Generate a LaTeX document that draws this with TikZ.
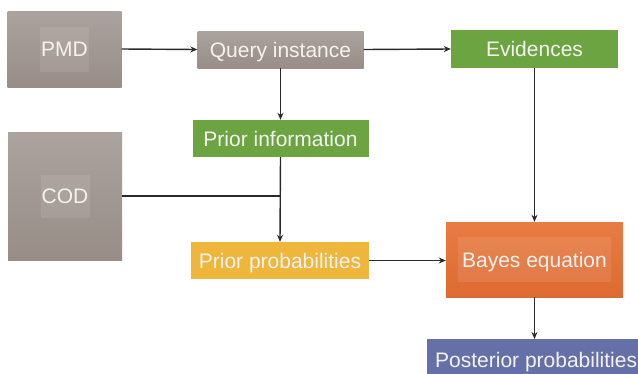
\documentclass[tikz,border=0pt]{standalone}
\usepackage{fontspec}
\setmainfont{Liberation Sans}
\usetikzlibrary{arrows.meta}
\definecolor{grayT}{HTML}{ABA39E}
\definecolor{grayB}{HTML}{988D87}
\definecolor{greenB}{HTML}{6CA441}
\definecolor{yellowB}{HTML}{EEB73C}
\definecolor{orangeT}{HTML}{E77C44}
\definecolor{orangeB}{HTML}{DE6A30}
\definecolor{blueB}{HTML}{6670A8}
\definecolor{txt}{HTML}{F4F2F0}
\definecolor{lineC}{HTML}{2A2A2A}
\tikzset{
  box/.style={rectangle, inner sep=0pt, text=txt, font=\fontsize{21}{25}\selectfont, draw=none, text height=15pt, text depth=0pt},
  graybox/.style={box, top color=grayT, bottom color=grayB},
  greenbox/.style={box, fill=greenB},
  yellowbox/.style={box, fill=yellowB},
  orangebox/.style={box, top color=orangeT, bottom color=orangeB},
  bluebox/.style={box, fill=blueB},
  inner/.style n args={2}{path picture={\fill[white,opacity=0.09]
     ([xshift=-#1/2,yshift=-#2/2]path picture bounding box.center) rectangle
     ([xshift=#1/2,yshift=#2/2]path picture bounding box.center);}},
  conn/.style={draw=lineC, line width=1.4pt},
  arr/.style={conn, -{Stealth[length=7pt,width=6pt]}}
}
\begin{document}
\begin{tikzpicture}[x=1pt,y=-1pt]
\useasboundingbox (0,0) rectangle (638,373);
\clip (0,0) rectangle (638,373);
\fill[white] (0,0) rectangle (638,373);
\node[graybox, minimum width=114pt, minimum height=76pt, inner={49pt}{45pt}] (pmd) at (64.5,49) {PMD};
\node[graybox, minimum width=114pt, minimum height=128pt, inner={49pt}{43pt}] (cod) at (65,196) {COD};
\node[graybox, minimum width=166pt, minimum height=37pt] (query) at (280.5,49.5) {Query instance};
\node[greenbox, minimum width=167pt, minimum height=38pt] (evid) at (534.5,49) {Evidences};
\node[greenbox, minimum width=176pt, minimum height=37pt] (pinfo) at (280.5,138.5) {Prior information};
\node[yellowbox, minimum width=178pt, minimum height=37pt] (pprob) at (280,260.5) {Prior probabilities};
\node[orangebox, minimum width=177pt, minimum height=75pt, inner={153pt}{45pt}] (bayes) at (534.5,259.5) {Bayes equation};
\node[bluebox, anchor=north west, minimum width=240pt, minimum height=40pt] (post) at (427,339) {};
\node[text=txt, font=\fontsize{21}{25}\selectfont, inner sep=0pt, anchor=base west] (posttxt) at (435,367) {Posterior probabilities};
\coordinate (join) at (280.5,196);
\draw[arr] (pmd.east) -- (query.west);
\draw[arr] (query.east) -- (evid.west);
\draw[arr] (query.south) -- (pinfo.north);
\draw[arr] (pinfo.south) -- (pprob.north);
\draw[conn] (cod.east |- join) -- (join);
\draw[arr] (pprob.east) -- (pprob.east -| bayes.west);
\draw[arr] (evid.south) -- (bayes.north);
\draw[arr] (bayes.south) -- (bayes.south |- post.north);
\end{tikzpicture}
\end{document}
